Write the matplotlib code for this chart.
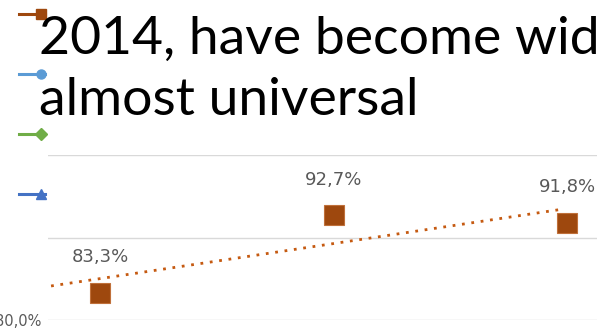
import matplotlib
matplotlib.use('Agg')
import matplotlib.pyplot as plt
from matplotlib.lines import Line2D
import numpy as np

# data
cats = [1, 2, 3]
values = [83.3, 92.7, 91.8]
labels = ['83,3%', '92,7%', '91,8%']
legend_colors = ['#9E480E', '#5B9BD5', '#70AD47', '#4472C4']
legend_markers = ['s', 'o', 'D', '^']
title_lines = ['2014, have become wid', 'almost universal']

W, H = 597, 328
fig = plt.figure(figsize=(W / 100, H / 100), dpi=100)

# plot area: left edge at x=48px, 80% at y=320px, 100% at y=155px
ax = fig.add_axes([48 / W, 8 / H, 1 - 48 / W, (320 - 155) / H])
ax.set_xlim(0.777, 3.128)
ax.set_ylim(80, 100)
for s in ax.spines.values():
    s.set_visible(False)
ax.set_yticks([80, 90, 100])
ax.set_yticklabels(['80,0%', '', ''], color='#595959', fontsize=10.5)
ax.tick_params(axis='y', length=0, pad=5)
ax.set_xticks([])
ax.grid(axis='y', color='#D9D9D9', linewidth=1)
ax.set_axisbelow(True)

ax.plot(cats, values, linestyle='none', marker='s', markersize=15,
        markerfacecolor='#9E480E', markeredgecolor='#C0703A', markeredgewidth=0.8,
        clip_on=False, zorder=3)
for x, v, t in zip(cats, values, labels):
    ax.annotate(t, (x, v), xytext=(0, 19), textcoords='offset points',
                ha='center', va='bottom', fontsize=13, color='#595959')

# linear trendline
k, b = np.polyfit(cats, values, 1)
tx = np.array([0.79, 2.98])
ax.plot(tx, k * tx + b, linestyle=(0, (1, 2.4)), color='#C55A11', linewidth=2, zorder=2)

# legend glyphs on the left (labels hidden under the text box)
for i, (c, m) in enumerate(zip(legend_colors, legend_markers)):
    yy = 1 - (14 + i * 60) / H
    fig.add_artist(Line2D([19 / W, 45 / W], [yy, yy], color=c, linewidth=2.2))
    fig.add_artist(Line2D([41 / W], [yy], marker=m, markersize=6.5, color=c))

# big slide text overlay
for i, t in enumerate(title_lines):
    fig.text(39 / W, 1 - (54 + i * 61) / H, t, fontsize=38.5, family='Lato',
             color='black', va='baseline', ha='left')

fig.savefig('out.png', dpi=100)
